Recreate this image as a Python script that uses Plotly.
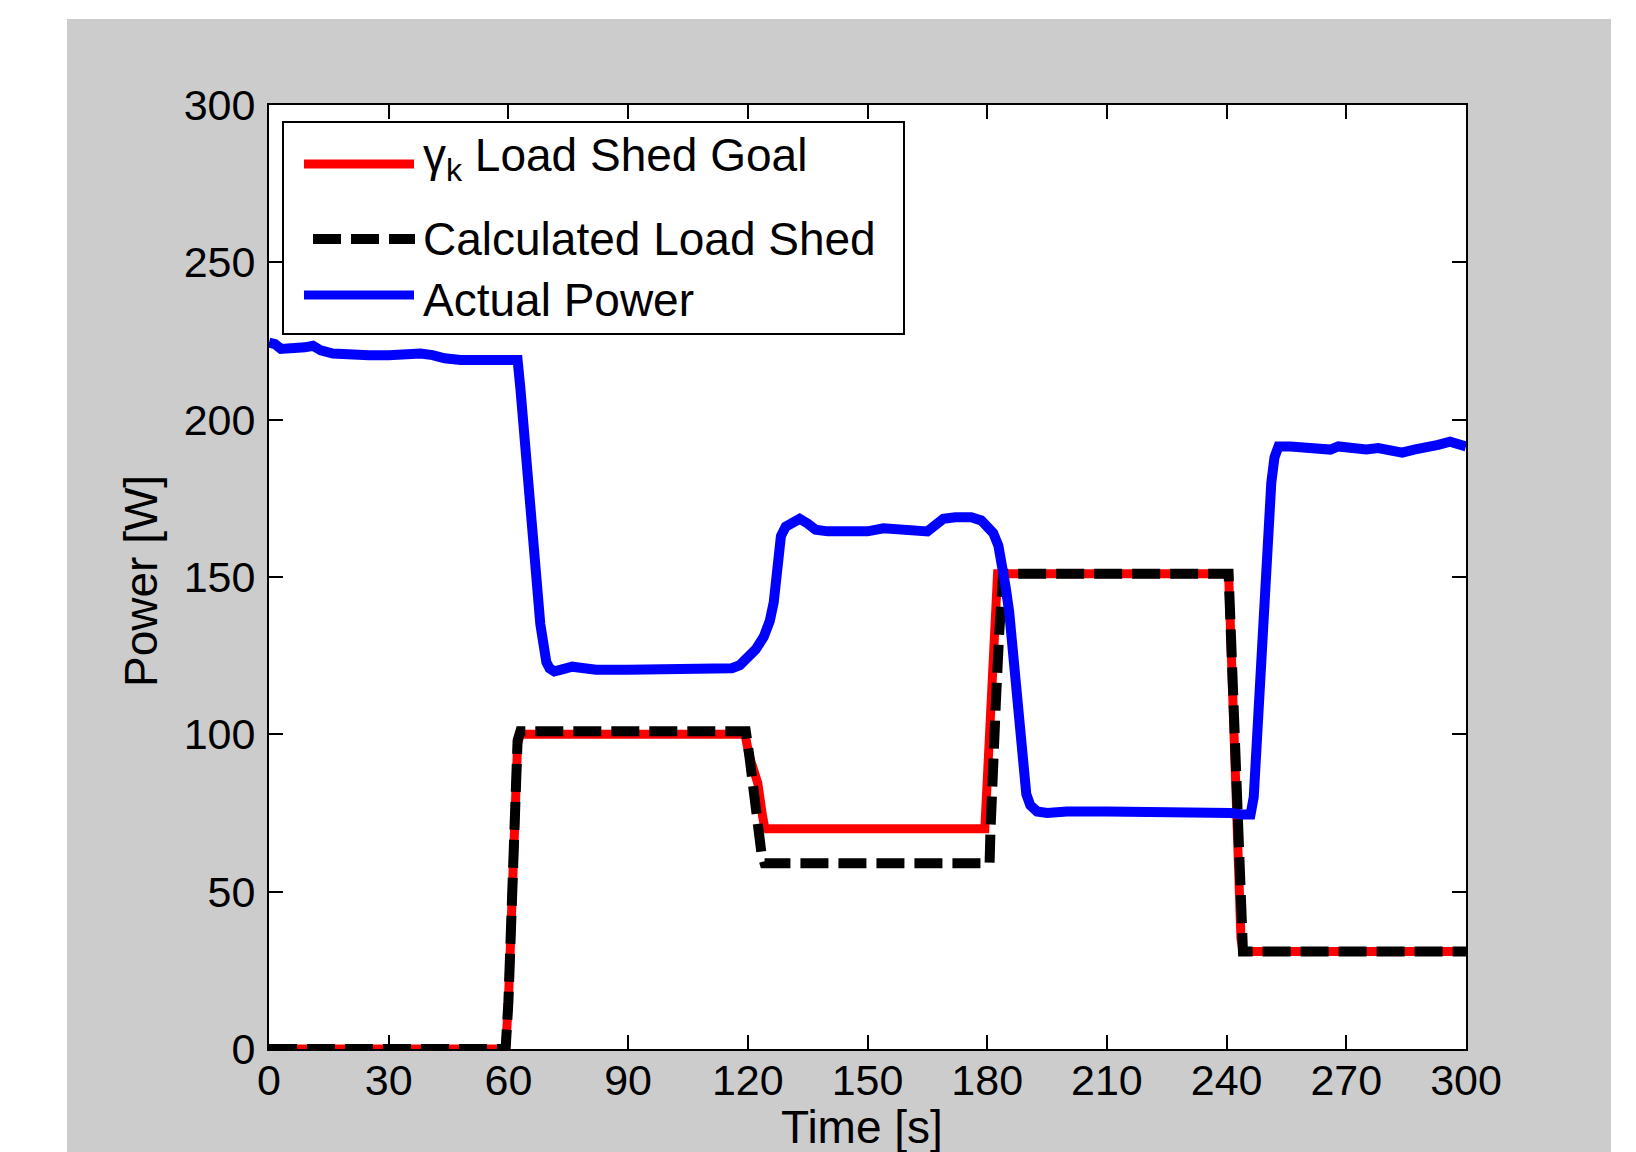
import plotly.graph_objects as go

# ---- data ----
goal_t = [0, 59.3, 60.0, 60.8, 61.5, 62.3, 63.0, 119.3, 120.4, 122.5, 123.7, 124.3,
          179.4, 179.7, 180.4, 181.2, 182.2, 182.6, 240.5, 241.0, 241.8, 242.8, 243.0, 243.6, 244.1, 300]
goal_y = [0, 0, 15, 45, 75, 97, 100, 100, 93, 84.5, 74, 70,
          70, 79, 100.5, 121.5, 140, 151, 151, 134, 101, 68, 48, 35, 31, 31]

calc_t = [0, 59.3, 60.0, 60.8, 61.5, 62.3, 63.0, 119.5, 120.4, 121.7, 122.5, 123.4, 124.2,
          180.6, 180.8, 181.2, 182.2, 183.0, 183.4, 184.0, 240.5, 241.0, 241.8, 242.8, 243.0, 243.6, 244.1, 300]
calc_y = [0, 0, 15, 45, 75, 98, 101, 101, 93, 79, 68.7, 62.4, 59,
          59, 68.7, 89.7, 111, 132, 148, 151, 151, 134, 101, 68, 48, 35, 31, 31]

power_t = [0, 1.5, 3, 6, 9, 11, 13, 16, 20, 25, 30, 34, 38, 41, 44, 48, 55, 60, 62.3,
           63, 63.6, 64.2, 64.8, 65.4, 66, 66.6, 67.3, 68, 68.5, 69, 69.5, 70.3, 71.5,
           73, 76, 79, 82, 90, 100, 106, 110, 113, 116, 118, 120, 122, 124, 125.5,
           126.5, 127.2, 127.8, 128.3, 129.5, 131, 133, 135, 137, 140, 145, 150, 154,
           158, 162, 165, 167, 169, 172, 176, 178.5, 180, 181.5, 182.8, 183.8, 184.6,
           185.5, 186.4, 187.3, 188.2, 189, 189.8, 190.8, 192.5, 195, 200, 210, 220,
           230, 238, 241, 244, 246, 246.8, 247.4, 248, 248.6, 249.2, 249.8, 250.5,
           251.2, 252, 253, 256, 260, 263, 266, 268, 272, 275, 278, 281, 284, 287,
           290, 293, 296, 298.5, 300]
power_y = [224.5, 224, 222.5, 222.5, 223, 223.5, 222, 221, 220.5, 220.5, 220.5, 221, 221, 220.5, 219.5, 219, 219, 219, 219,
           210, 200, 190, 179, 168, 158, 150, 142, 135, 131, 126, 123, 121, 120,
           120.5, 121.5, 121, 120.5, 120.5, 120.5, 121, 120.5, 121, 121, 122, 124, 127, 131, 136,
           142, 150, 158, 163, 166, 167.5, 168.5, 167, 165, 164.5, 164.5, 164.5, 165.5,
           165, 165, 164.5, 166.5, 168.5, 169, 169, 168, 166.5, 164, 160, 154, 147,
           139, 126, 113, 100, 88, 81, 77.5, 75.5, 75, 75.5, 75.5, 75.5,
           75.5, 75.5, 75, 74.5, 74.5, 80, 95, 110, 128, 145, 158, 168,
           180, 188, 191.5, 191.5, 191, 190.5, 190.5, 191.5, 191, 190.5, 191, 190, 189.5, 190.5,
           191, 192, 193, 192.5, 191.5]

x_ticks = [0, 30, 60, 90, 120, 150, 180, 210, 240, 270, 300]
y_ticks = [0, 50, 100, 150, 200, 250, 300]

labels = ["γ<sub>k</sub> Load Shed Goal", "Calculated Load Shed", "Actual Power"]
x_title = "Time [s]"
y_title = "Power [W]"

FONT = "Liberation Sans, Arial, Helvetica, sans-serif"
DASH = "28px,10px"

fig = go.Figure()
fig.add_trace(go.Scatter(x=goal_t, y=goal_y, mode="lines", name=labels[0],
                         line=dict(color="#ff0000", width=9), showlegend=False))
fig.add_trace(go.Scatter(x=calc_t, y=calc_y, mode="lines", name=labels[1],
                         line=dict(color="#000000", width=10, dash=DASH), showlegend=False))
fig.add_trace(go.Scatter(x=power_t, y=power_y, mode="lines", name=labels[2],
                         line=dict(color="#0000ff", width=10), showlegend=False))

# plot area in pixels: x 269..1466, y 105..1049
W, H = 1636, 1152
L, R, T, B = 269, 1466, 105, 1049


def px(xp):
    return (xp - L) / (R - L)


def py(yp):
    return (B - yp) / (B - T)


shapes = [
    # gray figure background (with white page border around it)
    dict(type="rect", xref="paper", yref="paper", x0=px(67), x1=px(1611), y0=py(1200), y1=py(19),
         fillcolor="#cccccc", line=dict(width=0), layer="below"),
    # white axes background
    dict(type="rect", xref="paper", yref="paper", x0=0, x1=1, y0=0, y1=1,
         fillcolor="white", line=dict(width=0), layer="below"),
    # legend box
    dict(type="rect", xref="paper", yref="paper", x0=px(283), x1=px(904), y0=py(334), y1=py(122),
         fillcolor="white", line=dict(color="black", width=2), layer="above"),
    dict(type="line", xref="paper", yref="paper", x0=px(304), x1=px(414), y0=py(164), y1=py(164),
         line=dict(color="#ff0000", width=9)),
    dict(type="line", xref="paper", yref="paper", x0=px(313), x1=px(415), y0=py(239), y1=py(239),
         line=dict(color="#000000", width=10, dash=DASH)),
    dict(type="line", xref="paper", yref="paper", x0=px(304), x1=px(414), y0=py(295), y1=py(295),
         line=dict(color="#0000ff", width=9)),
]

text_font = dict(family=FONT, size=46, color="black")
annotations = [
    dict(xref="paper", yref="paper", x=px(421), y=py(159), xanchor="left", yanchor="middle",
         text=labels[0], showarrow=False, font=text_font),
    dict(xref="paper", yref="paper", x=px(421), y=py(239), xanchor="left", yanchor="middle",
         text=labels[1], showarrow=False, font=text_font),
    dict(xref="paper", yref="paper", x=px(421), y=py(300), xanchor="left", yanchor="middle",
         text=labels[2], showarrow=False, font=text_font),
    # axis titles
    dict(xref="paper", yref="paper", x=px(862), y=py(1127), xanchor="center", yanchor="middle",
         text=x_title, showarrow=False, font=text_font),
    dict(xref="paper", yref="paper", x=px(141), y=py(581), xanchor="center", yanchor="middle",
         text=y_title, textangle=-90, showarrow=False, font=text_font),
]

axis_common = dict(showgrid=False, zeroline=False, showline=True, linecolor="black", linewidth=2,
                   mirror="ticks", ticks="inside", ticklen=14, tickwidth=2, tickcolor="black",
                   automargin=False,
                   tickfont=dict(family=FONT, size=43, color="black"))

fig.update_layout(
    width=W, height=H, autosize=False,
    margin=dict(l=L, r=W - R, t=T, b=H - B),
    paper_bgcolor="white", plot_bgcolor="white",
    shapes=shapes, annotations=annotations,
    xaxis=dict(range=[0, 300], tickvals=x_ticks, ticklabelstandoff=-8, **axis_common),
    yaxis=dict(range=[0, 300], tickvals=y_ticks, ticklabelstandoff=3, **axis_common),
    showlegend=False,
)

fig.write_html("out.html", config={"displayModeBar": False},
               post_script="document.body.style.margin='0px';document.body.style.overflow='hidden';")
